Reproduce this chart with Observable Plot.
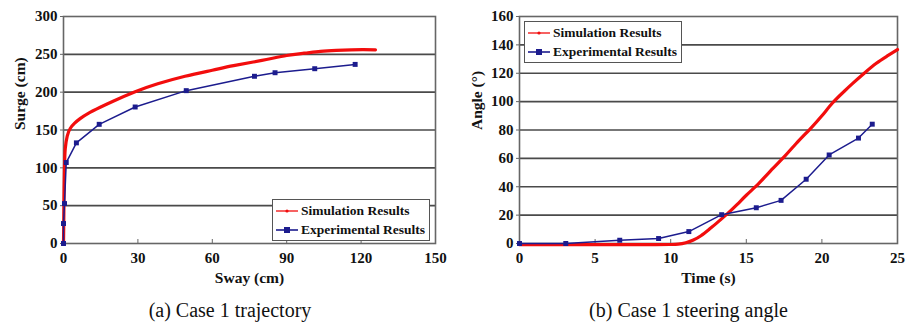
<!DOCTYPE html>
<html><head><meta charset="utf-8">
<script src="https://cdn.jsdelivr.net/npm/d3@7"></script>
<script src="https://cdn.jsdelivr.net/npm/@observablehq/plot@0.6"></script>
<style>
body{margin:0;background:#fff;}
#wrap{position:relative;width:917px;height:329px;overflow:hidden;}
.panel{position:absolute;top:0;}
.panel svg text{font-family:"Liberation Serif","Times New Roman",serif !important;font-weight:bold;}
.cap{position:absolute;top:299px;width:100%;text-align:center;font-family:"Liberation Serif",serif;font-size:20px;color:#111;}
.leg{position:absolute;border:1.5px solid #555;background:#fff;font-family:"Liberation Serif",serif;font-weight:bold;font-size:13.5px;color:#111;padding:1px 4px 1px 3px;line-height:19px;}
.leg div{display:flex;align-items:center;white-space:nowrap;}
.leg svg{margin-right:3px;}
</style></head>
<body><div id="wrap"></div>
<script>
// Panel (a): trajectory
const swaySim = [0, 0.1, 0.2, 0.4, 0.7, 1.5, 2.7, 4.5, 6.7, 10, 14.8, 20, 28.9, 38, 49, 60, 68.6, 80, 90, 97, 103.6, 110, 116, 121, 125.8];
const surgeSim = [0, 25, 60, 100, 125, 142, 152, 159, 165, 172, 180, 188, 200.5, 211, 221, 229, 235, 242, 248.5, 251.5, 254, 255.3, 256, 256.2, 256];
const swayExp = [0, 0, 0.4, 1.1, 5.2, 14.4, 28.9, 49.5, 77, 85.3, 101.3, 117.6];
const surgeExp = [0, 26.4, 52.8, 107, 133, 157.5, 180.4, 202, 221, 225.7, 231, 236.7];
const swayTicks = [0, 30, 60, 90, 120, 150];
const surgeTicks = [0, 50, 100, 150, 200, 250, 300];

// Panel (b): steering angle
const timeSim = [0, 3, 6, 9, 10, 10.5, 11, 11.5, 12, 12.6, 13, 13.7, 14.4, 15, 15.8, 16.5, 17.5, 18.3, 19.2, 20, 20.7, 21.4, 22, 22.8, 23.6, 24.3, 25];
const angleSim = [-0.8, -0.8, -0.8, -0.8, -0.7, -0.5, 0.5, 2.5, 5.5, 10.5, 14, 20.5, 27.5, 34, 42, 50, 61, 70.5, 80.5, 90, 99, 106.5, 112.5, 120, 127, 132, 136.7];
const timeExp = [0, 3.06, 6.63, 9.2, 11.2, 13.37, 15.66, 17.3, 18.96, 20.48, 22.42, 23.33];
const angleExp = [0, 0, 2.3, 3.5, 8.4, 20.3, 25.2, 30.4, 45.3, 62.4, 74.3, 84.1];
const timeTicks = [0, 5, 10, 15, 20, 25];
const angleTicks = [0, 20, 40, 60, 80, 100, 120, 140, 160];

const seriesNames = ["Simulation Results", "Experimental Results"];
const captions = ["(a) Case 1 trajectory", "(b) Case 1 steering angle"];
const axisTitles = [["Sway (cm)", "Surge (cm)"], ["Time (s)", "Angle (°)"]];

const RED = "#f20d0d", BLUE = "#1c1c8e";
const font = "'Liberation Serif', 'Times New Roman', serif";

function toRows(xs, ys){ return xs.map((x,i)=>({x, y: ys[i]})); }

function makePlot(cfg){
  return Plot.plot({
    width: cfg.width, height: 295,
    marginLeft: cfg.ml, marginRight: cfg.mr, marginTop: 16, marginBottom: 52,
    style: {fontFamily: font, fontSize: "15px", fontWeight: "bold", color: "#111", background: "transparent", overflow: "visible"},
    x: {domain: cfg.xd, ticks: cfg.xt, label: null},
    y: {domain: cfg.yd, ticks: cfg.yt, label: null},
    marks: [
      Plot.ruleY(cfg.yt.slice(1, -1), {stroke: "#4a4a4a", strokeWidth: 1.6}),
      Plot.frame({stroke: "#666", strokeWidth: 1.6}),
      Plot.axisX({ticks: cfg.xt, tickSize: -4, text: null, stroke: "#666"}),
      Plot.axisX({ticks: cfg.xt, tickSize: 0, tickPadding: 9, fontSize: 15, fontWeight: "bold", label: null}),
      Plot.axisY({ticks: cfg.yt, tickSize: 3, tickPadding: 3, fontSize: 15, fontWeight: "bold", label: null, stroke: "#666"}),
      Plot.line(cfg.sim, {x: "x", y: "y", stroke: RED, strokeWidth: 3.2, curve: "natural"}),
      Plot.line(cfg.exp, {x: "x", y: "y", stroke: BLUE, strokeWidth: 1.5}),
      Plot.dot(cfg.exp, {x: "x", y: "y", symbol: "square", r: 2.8, fill: BLUE, stroke: "none"}),
      Plot.text([cfg.titles[0]], {frameAnchor: "bottom", dy: 39, fontSize: 15.5, fontWeight: "bold", fill: "#111"}),
      Plot.text([cfg.titles[1]], {frameAnchor: "left", dx: cfg.ydx, rotate: -90, fontSize: 15.5, fontWeight: "bold", fill: "#111"})
    ]
  });
}

function legend(left, top){
  const el = document.createElement("div");
  el.className = "leg";
  el.style.left = left + "px"; el.style.top = top + "px";
  seriesNames.forEach((n, i) => {
    const row = document.createElement("div");
    const c = i === 0 ? RED : BLUE;
    const mk = i === 0 ? `<circle cx="11" cy="5" r="1.6" fill="${c}"/>` : `<rect x="8" y="2" width="6" height="6" fill="${c}"/>`;
    row.innerHTML = `<svg width="22" height="10"><line x1="0" x2="22" y1="5" y2="5" stroke="${c}" stroke-width="${i===0?1.3:1.6}"/>${mk}</svg><span>${n}</span>`;
    el.appendChild(row);
  });
  return el;
}

const wrap = document.getElementById("wrap");
const panels = [
  {left: 0, width: 460, ml: 63, mr: 25, xd: [0,150], xt: swayTicks, yd: [0,300], yt: surgeTicks,
   sim: toRows(swaySim, surgeSim), exp: toRows(swayExp, surgeExp), titles: axisTitles[0], ydx: -43, cap: captions[0], leg: [272, 199]},
  {left: 460, width: 457, ml: 59, mr: 20, xd: [0,25], xt: timeTicks, yd: [0,160], yt: angleTicks,
   sim: toRows(timeSim, angleSim), exp: toRows(timeExp, angleExp), titles: axisTitles[1], ydx: -42, cap: captions[1], leg: [64, 21]}
];
panels.forEach(p => {
  const d = document.createElement("div");
  d.className = "panel"; d.style.left = p.left + "px"; d.style.width = p.width + "px"; d.style.height = "329px";
  d.appendChild(makePlot(p));
  const cap = document.createElement("div"); cap.className = "cap"; cap.textContent = p.cap;
  d.appendChild(cap);
  d.appendChild(legend(p.leg[0], p.leg[1]));
  wrap.appendChild(d);
});
</script></body></html>
